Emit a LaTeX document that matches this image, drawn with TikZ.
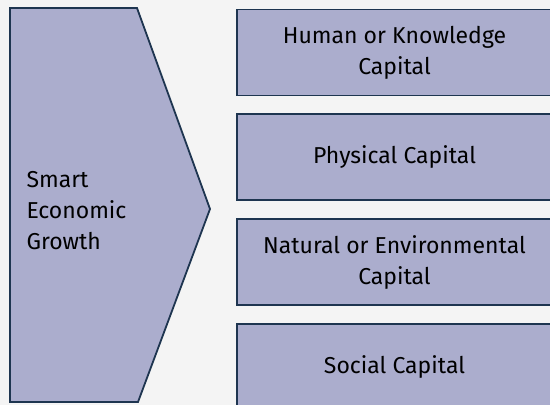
\documentclass[tikz,border=0pt]{standalone}
\usepackage{fontspec}
\setmainfont{Fira Sans}
\usetikzlibrary{positioning}

\definecolor{boxfill}{HTML}{ABADCD}
\definecolor{boxline}{HTML}{1E3550}
\definecolor{paper}{HTML}{F4F4F4}

\tikzset{
    capbox/.style={draw=boxline, fill=boxfill, line width=1.8pt,
        minimum width=315pt, minimum height=86pt, inner sep=0pt,
        align=center, font=\fontsize{23}{31}\selectfont},
}

\begin{document}
\begin{tikzpicture}[x=1pt,y=-1pt]

% Rahmen und Hintergrund
\useasboundingbox (0,0) rectangle (550,405);
\clip (0,0) rectangle (550,405);
\fill[paper] (0,0) rectangle (550,405);

% Pfeilform links
\coordinate (tl) at (10,8);
\coordinate (tr) at (137,8);
\coordinate (tip) at (210,209);
\coordinate (br) at (138,402);
\coordinate (bl) at (10,402);
\draw[boxline, fill=boxfill, line width=1.8pt, line join=miter]
    (tl) -- (tr) -- (tip) -- (br) -- (bl) -- cycle;
\node[anchor=west, align=left, font=\fontsize{23}{31}\selectfont] (growth) at (23,211)
    {Smart\\Economic\\Growth};

% Kapitalarten rechts
\node[capbox] (human) at (394.5,52.5) {Human or Knowledge\\Capital};
\node[capbox, below=17pt of human] (physical) {Physical Capital};
\node[capbox, below=17pt of physical] (natural) {Natural or Environmental\\Capital};
\node[capbox, below=17pt of natural] (social) {Social Capital};

\end{tikzpicture}
\end{document}
